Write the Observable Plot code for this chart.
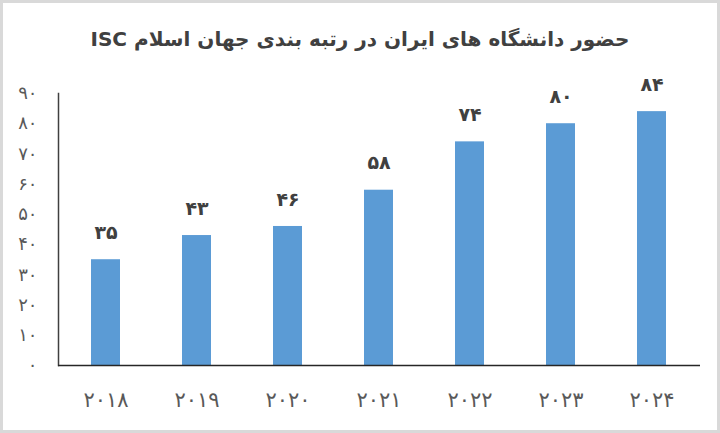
<!DOCTYPE html>
<html>
<head>
<meta charset="utf-8">
<script src="https://cdn.jsdelivr.net/npm/d3@7"></script>
<script src="https://cdn.jsdelivr.net/npm/@observablehq/plot@0.6"></script>
<style>
  html, body { margin: 0; padding: 0; background: #fff; }
  #frame {
    position: absolute; left: 0; top: 0;
    width: 720px; height: 433px;
    box-sizing: border-box;
    border: 3px solid #d9d9d9;
    background: #fff;
    overflow: hidden;
  }
  #title {
    height: 62px; line-height: 72px;
    text-align: center;
    font-family: "DejaVu Sans", sans-serif;
    font-weight: bold;
    font-size: 20px;
    color: #404040;
    direction: rtl;
  }
</style>
</head>
<body>
<div id="frame">
  <div id="title">حضور دانشگاه های ایران در رتبه بندی جهان اسلام ISC</div>
  <div id="chart"></div>
</div>
<script>
const years = ["2018", "2019", "2020", "2021", "2022", "2023", "2024"];
const values = [35, 43, 46, 58, 74, 80, 84];
const yTicks = [0, 10, 20, 30, 40, 50, 60, 70, 80, 90];

const fa = s => String(s).replace(/[0-9]/g, d => "۰۱۲۳۴۵۶۷۸۹"[+d]);
const data = years.map((y, i) => ({year: y, value: values[i]}));

const chart = Plot.plot({
  width: 714,
  height: 365,
  marginLeft: 55,
  marginRight: 17,
  marginTop: 28,
  marginBottom: 65,
  style: {fontFamily: "DejaVu Sans, sans-serif", background: "#fff"},
  x: {domain: years, paddingInner: 0.68, paddingOuter: 0.34, label: null},
  y: {domain: [0, 90], label: null},
  marks: [
    Plot.barY(data, {x: "year", y: "value", fill: "#5b9bd5"}),
    Plot.text(data, {x: "year", y: "value", text: d => fa(d.value), dy: -27,
      fontSize: 19, fontWeight: "bold", fill: "#404040"}),
    Plot.axisY({ticks: yTicks, tickSize: 0, tickPadding: 21, tickFormat: fa,
      fontSize: 18, fill: "#595959", label: null}),
    Plot.axisX({tickSize: 0, tickPadding: 27, tickFormat: fa,
      fontSize: 21, fill: "#595959", label: null}),
    Plot.frame({anchor: "left", stroke: "#404040", strokeWidth: 1.5}),
    Plot.ruleY([0], {stroke: "#262626", strokeWidth: 1.5})
  ]
});
document.getElementById("chart").appendChild(chart);
</script>
</body>
</html>
